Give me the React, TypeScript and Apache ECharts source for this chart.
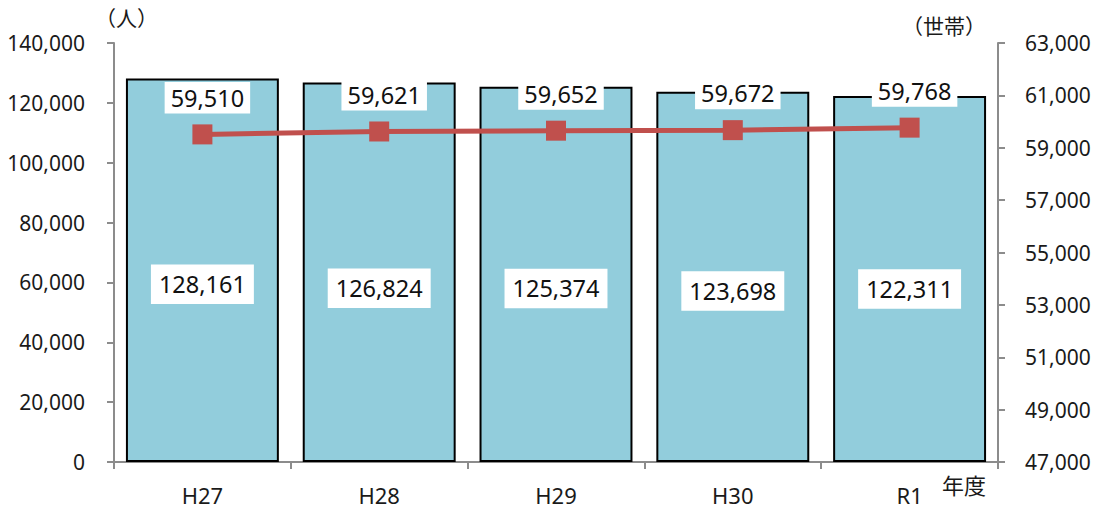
import React, { useEffect, useRef } from "react";
import * as echarts from "echarts";

// Fiscal years
const years = ["H27", "H28", "H29", "H30", "R1"];
// Population (persons), left axis
const population = [128161, 126824, 125374, 123698, 122311];
// Households, right axis
const households = [59510, 59621, 59652, 59672, 59768];

const leftAxis = { min: 0, max: 140000, interval: 20000 };
const rightAxis = { min: 47000, max: 63000, interval: 2000 };

// Vertical nudge of each population label below the bar's midpoint
const popLabelShift = [14, 16, 14, 14, 10];

const FONT = '"Noto Sans", "Noto Sans CJK JP", sans-serif';
const AXIS_GRAY = "#8c8c8c";
const TEXT = "#1a1a1a";

const fmt = (v: number) => v.toLocaleString("en-US");

export default function App() {
  const ref = useRef<HTMLDivElement>(null);

  useEffect(() => {
    if (!ref.current) return;
    const chart = echarts.init(ref.current, undefined, { renderer: "svg" });
    chart.setOption({
      animation: false,
      textStyle: { fontFamily: FONT },
      grid: { left: 114, right: 107, top: 43, bottom: 49 },
      xAxis: {
        type: "category",
        data: years,
        boundaryGap: true,
        axisLine: { lineStyle: { color: AXIS_GRAY, width: 2 } },
        axisTick: { show: true, length: 7, lineStyle: { color: AXIS_GRAY, width: 2 } },
        axisLabel: { color: TEXT, fontSize: 22, margin: 22, fontFamily: FONT },
      },
      yAxis: [
        {
          type: "value",
          ...leftAxis,
          splitLine: { show: false },
          axisLine: { show: true, lineStyle: { color: AXIS_GRAY, width: 2 } },
          axisTick: { show: true, length: 7, lineStyle: { color: AXIS_GRAY, width: 2 } },
          axisLabel: {
            color: TEXT,
            fontSize: 21,
            margin: 29,
            fontFamily: FONT,
            formatter: (v: number) => fmt(v),
          },
        },
        {
          type: "value",
          ...rightAxis,
          position: "right",
          splitLine: { show: false },
          axisLine: { show: true, lineStyle: { color: AXIS_GRAY, width: 2 } },
          axisTick: { show: true, length: 7, lineStyle: { color: AXIS_GRAY, width: 2 } },
          axisLabel: {
            color: TEXT,
            fontSize: 21,
            margin: 27,
            fontFamily: FONT,
            formatter: (v: number) => fmt(v),
          },
        },
      ],
      series: [
        {
          type: "bar",
          yAxisIndex: 0,
          data: population.map((v, i) => ({
            value: v,
            label: { offset: [0, popLabelShift[i]] },
          })),
          barWidth: "86.5%",
          z: 2,
          itemStyle: { color: "#92CDDC", borderColor: "#000", borderWidth: 2 },
          label: {
            show: true,
            position: "inside",
            formatter: (p: any) => fmt(p.value),
            color: "#111",
            fontSize: 23.5,
            fontFamily: FONT,
            backgroundColor: "#fff",
            padding: [9, 8, 7, 8],
          },
        },
        {
          type: "line",
          yAxisIndex: 1,
          data: households,
          z: 4,
          symbol: "rect",
          symbolSize: 20,
          lineStyle: { color: "#C0504D", width: 5 },
          itemStyle: { color: "#C0504D" },
          label: {
            show: true,
            position: "top",
            distance: 11,
            offset: [5, 0],
            formatter: (p: any) => fmt(p.value),
            color: "#111",
            fontSize: 23.5,
            fontFamily: FONT,
            backgroundColor: "#fff",
            padding: [4, 6, 4, 6],
          },
        },
      ],
      graphic: [
        {
          type: "text",
          left: 95,
          top: 7,
          style: { text: "（人）", fontSize: 21, fill: TEXT, fontFamily: FONT },
        },
        {
          type: "text",
          left: 902,
          top: 15,
          style: { text: "（世帯）", fontSize: 21, fill: TEXT, fontFamily: FONT },
        },
        {
          type: "text",
          left: 942,
          top: 474,
          style: { text: "年度", fontSize: 22, fill: TEXT, fontFamily: FONT },
        },
      ],
    });
    return () => chart.dispose();
  }, []);

  return (
    <div
      ref={ref}
      style={{ position: "fixed", left: 0, top: 0, width: 1105, height: 511, background: "#fff" }}
    />
  );
}
